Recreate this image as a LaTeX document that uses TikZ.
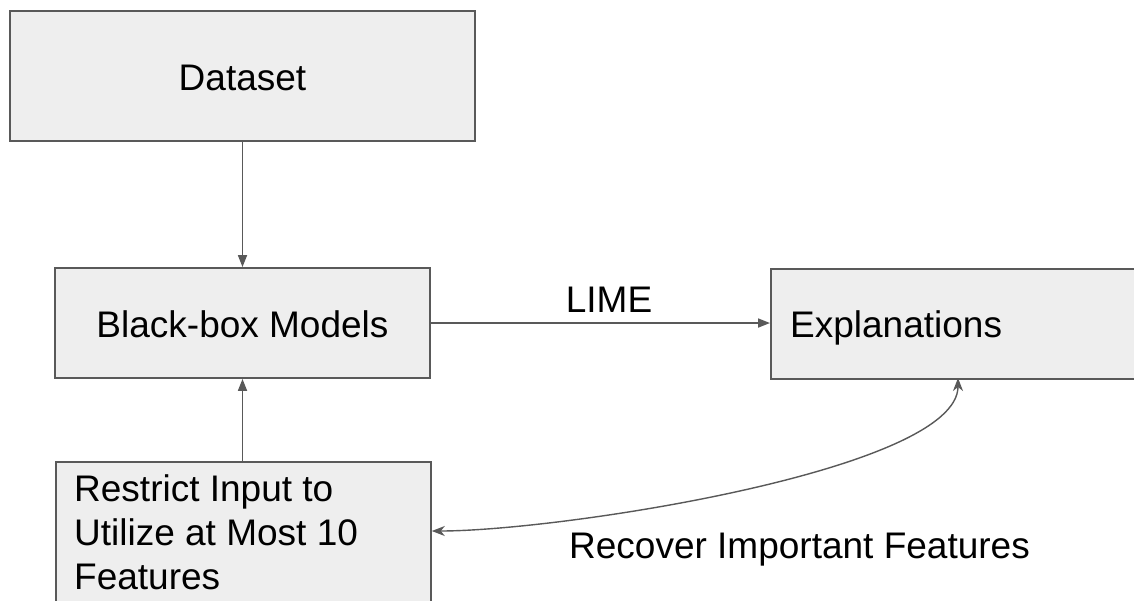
\documentclass[tikz,border=0pt]{standalone}
\usepackage{fontspec}
\setmainfont{Liberation Sans}
\usetikzlibrary{arrows.meta}
\definecolor{edge}{HTML}{595959}
\definecolor{boxfill}{HTML}{EEEEEE}
\tikzset{
  box/.style={draw=edge, fill=boxfill, line width=1.8pt, rectangle, inner sep=0pt},
  lbl/.style={font=\fontsize{37}{44}\selectfont, inner sep=0pt, text=black},
  conn/.style={draw=edge, line width=1.7pt, -{Triangle[length=12pt,width=9pt]}},
  curv/.style={draw=edge, line width=1.4pt, {Stealth[length=13pt,width=10pt,inset=4pt]}-{Stealth[length=13pt,width=10pt,inset=4pt]}}
}
\begin{document}
\begin{tikzpicture}[x=1pt,y=-1pt]
\clip (0,0) rectangle (1134,600);
\fill[white] (0,0) rectangle (1134,600);
% boxes
\node[box, minimum width=465pt, minimum height=130pt] (ds) at (242.5,76) {};
\node[box, minimum width=375pt, minimum height=110pt] (bb) at (242.5,323) {};
\node[box, anchor=north west, minimum width=380pt, minimum height=110pt] (ex) at (770,268) {};
\node[box, anchor=north west, minimum width=375pt, minimum height=160pt] (rs) at (55,461) {};
% texts
\node[lbl, anchor=base] (dstxt) at (242.5,90) {Dataset};
\node[lbl, anchor=base] (bbtxt) at (242.5,337) {Black-box Models};
\node[lbl, anchor=base west] (extxt) at (790,337) {Explanations};
\node[lbl, anchor=base] (lime) at (609,312) {LIME};
\node[lbl, anchor=base west] (rec) at (569,558) {Recover Important Features};
\node[lbl, anchor=north west, align=left] (rstxt) at (74,474) {Restrict Input to\\Utilize at Most 10\\Features};
% connectors
\draw[conn] (ds.south) -- (bb.north);
\draw[conn] (rs.north -| bb.south) -- (bb.south);
\draw[conn] (bb.east) -- (ex.west |- bb.east);
\coordinate (cs) at (rs.east |- 0,531);
\coordinate (ce) at (958,378);
\draw[curv] (cs) .. controls (560,531) and (958,470) .. (ce);
\end{tikzpicture}
\end{document}
